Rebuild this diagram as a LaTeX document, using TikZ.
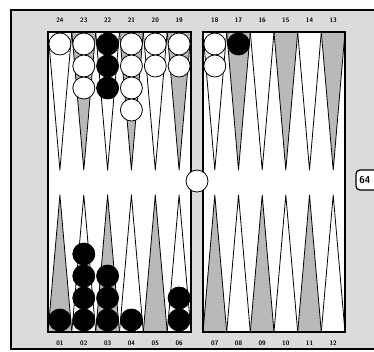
\documentclass[tikz,border=0pt]{standalone}
\usepackage{tikz}
\usetikzlibrary{positioning}
\usepackage{xcolor}

\begin{document}
\begin{tikzpicture}[
    x=1pt, y=-1pt,
    wchk/.style={circle, draw, fill=white, minimum size=22pt, inner sep=0pt},
    bchk/.style={circle, draw, fill=black, minimum size=22pt, inner sep=0pt},
    num/.style={font=\sffamily\bfseries\fontsize{6.5}{6.5}\selectfont, inner sep=0pt},
    dpt/.style={fill=gray!55, draw, line width=0.8pt, line join=round},
    lpt/.style={fill=white, draw, line width=0.8pt, line join=round},
    thick
]

  \clip (0,0) rectangle (374,351);

  % --- FRAME ---
  \filldraw[fill=gray!28, line width=1.2pt] (11,10) rectangle (390,349);
  \fill[white] (48,32) rectangle (191,332);
  \fill[white] (203,32) rectangle (345,332);

  % --- TOP POINTS ---
  \filldraw[lpt] (48,32) -- (59.9,170) -- (71.8,32) -- cycle;
  \filldraw[dpt] (71.8,32) -- (83.8,170) -- (95.7,32) -- cycle;
  \filldraw[lpt] (95.7,32) -- (107.6,170) -- (119.5,32) -- cycle;
  \filldraw[dpt] (119.5,32) -- (131.4,170) -- (143.3,32) -- cycle;
  \filldraw[lpt] (143.3,32) -- (155.3,170) -- (167.2,32) -- cycle;
  \filldraw[dpt] (167.2,32) -- (179.1,170) -- (191,32) -- cycle;
  \filldraw[lpt] (203,32) -- (214.8,170) -- (226.7,32) -- cycle;
  \filldraw[dpt] (226.7,32) -- (238.5,170) -- (250.3,32) -- cycle;
  \filldraw[lpt] (250.3,32) -- (262.2,170) -- (274,32) -- cycle;
  \filldraw[dpt] (274,32) -- (285.8,170) -- (297.7,32) -- cycle;
  \filldraw[lpt] (297.7,32) -- (309.5,170) -- (321.3,32) -- cycle;
  \filldraw[dpt] (321.3,32) -- (333.2,170) -- (345,32) -- cycle;

  % --- BOTTOM POINTS ---
  \filldraw[dpt] (48,332) -- (59.9,195) -- (71.8,332) -- cycle;
  \filldraw[lpt] (71.8,332) -- (83.8,195) -- (95.7,332) -- cycle;
  \filldraw[dpt] (95.7,332) -- (107.6,195) -- (119.5,332) -- cycle;
  \filldraw[lpt] (119.5,332) -- (131.4,195) -- (143.3,332) -- cycle;
  \filldraw[dpt] (143.3,332) -- (155.3,195) -- (167.2,332) -- cycle;
  \filldraw[lpt] (167.2,332) -- (179.1,195) -- (191,332) -- cycle;
  \filldraw[dpt] (203,332) -- (214.8,195) -- (226.7,332) -- cycle;
  \filldraw[lpt] (226.7,332) -- (238.5,195) -- (250.3,332) -- cycle;
  \filldraw[dpt] (250.3,332) -- (262.2,195) -- (274,332) -- cycle;
  \filldraw[lpt] (274,332) -- (285.8,195) -- (297.7,332) -- cycle;
  \filldraw[dpt] (297.7,332) -- (309.5,195) -- (321.3,332) -- cycle;
  \filldraw[lpt] (321.3,332) -- (333.2,195) -- (345,332) -- cycle;

  % --- BOARD EDGES ---
  \draw[line width=1.2pt] (48,32) rectangle (191,332);
  \draw[line width=1.2pt] (203,32) rectangle (345,332);

  % --- WHITE CHECKERS ---
  \node[wchk] (w24a) at (59.9,44) {};
  \node[wchk] (w23a) at (83.8,44) {};
  \node[wchk] (w23b) at (83.8,66) {};
  \node[wchk] (w23c) at (83.8,88) {};
  \node[wchk] (w21a) at (131.4,44) {};
  \node[wchk] (w21b) at (131.4,66) {};
  \node[wchk] (w21c) at (131.4,88) {};
  \node[wchk] (w21d) at (131.4,110) {};
  \node[wchk] (w20a) at (155.3,44) {};
  \node[wchk] (w20b) at (155.3,66) {};
  \node[wchk] (w19a) at (179.1,44) {};
  \node[wchk] (w19b) at (179.1,66) {};
  \node[wchk] (w18a) at (214.8,44) {};
  \node[wchk] (w18b) at (214.8,66) {};
  \node[wchk] (wbar) at (197,181) {};

  % --- BLACK CHECKERS ---
  \node[bchk] (b22a) at (107.6,44) {};
  \node[bchk] (b22b) at (107.6,66) {};
  \node[bchk] (b22c) at (107.6,88) {};
  \node[bchk] (b17a) at (238.5,44) {};
  \node[bchk] (b01a) at (59.9,320) {};
  \node[bchk] (b02a) at (83.8,320) {};
  \node[bchk] (b02b) at (83.8,298) {};
  \node[bchk] (b02c) at (83.8,276) {};
  \node[bchk] (b02d) at (83.8,254) {};
  \node[bchk] (b03a) at (107.6,320) {};
  \node[bchk] (b03b) at (107.6,298) {};
  \node[bchk] (b03c) at (107.6,276) {};
  \node[bchk] (b04a) at (131.4,320) {};
  \node[bchk] (b06a) at (179.1,320) {};
  \node[bchk] (b06b) at (179.1,298) {};

  % --- POINT NUMBERS ---
  \node[num] (n24) at (59.9,20) {24};
  \node[num] (n23) at (83.8,20) {23};
  \node[num] (n22) at (107.6,20) {22};
  \node[num] (n21) at (131.4,20) {21};
  \node[num] (n20) at (155.3,20) {20};
  \node[num] (n19) at (179.1,20) {19};
  \node[num] (n18) at (214.8,20) {18};
  \node[num] (n17) at (238.5,20) {17};
  \node[num] (n16) at (262.2,20) {16};
  \node[num] (n15) at (285.8,20) {15};
  \node[num] (n14) at (309.5,20) {14};
  \node[num] (n13) at (333.2,20) {13};
  \node[num] (n01) at (59.9,343) {01};
  \node[num] (n02) at (83.8,343) {02};
  \node[num] (n03) at (107.6,343) {03};
  \node[num] (n04) at (131.4,343) {04};
  \node[num] (n05) at (155.3,343) {05};
  \node[num] (n06) at (179.1,343) {06};
  \node[num] (n07) at (214.8,343) {07};
  \node[num] (n08) at (238.5,343) {08};
  \node[num] (n09) at (262.2,343) {09};
  \node[num] (n10) at (285.8,343) {10};
  \node[num] (n11) at (309.5,343) {11};
  \node[num] (n12) at (333.2,343) {12};

  % --- DOUBLING CUBE ---
  \filldraw[fill=white, line width=1.2pt, rounded corners=4pt] (356,170) rectangle (385,190);
  \node[font=\sffamily\bfseries, anchor=west, inner sep=0pt] (cube) at (359,180) {64};

\end{tikzpicture}
\end{document}
